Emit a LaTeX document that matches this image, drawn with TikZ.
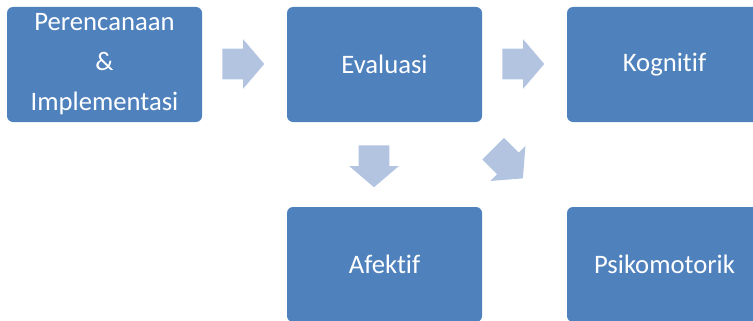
\documentclass[tikz,border=0pt]{standalone}
\usepackage{fontspec}
\setmainfont{Carlito}[Ligatures=NoCommon]
\usetikzlibrary{shapes.arrows}
\definecolor{kotakbiru}{RGB}{79,129,189}
\definecolor{panahbiru}{RGB}{179,196,224}
\tikzset{
    kotak/.style={
           rectangle,
           rounded corners=4.5pt,
           fill=kotakbiru, draw=none,
           text=white,
           minimum width=146.25pt,
           minimum height=86.25pt,
           font=\fontsize{20}{30}\selectfont,
           align=center},
    panah/.style={
           single arrow,
           fill=panahbiru, draw=none,
           anchor=tail,
           minimum height=31.5pt,
           single arrow head extend=7.1pt,
           single arrow tip angle=99,
           inner xsep=0pt, inner ysep=11.25pt}
}
\begin{document}
\begin{tikzpicture}[x=0.75pt,y=-0.75pt]
      \useasboundingbox (0,0) rectangle (753,321);
      \node[kotak] (0) at (104.5,64.5) {Perencanaan \\ \& \\ Implementasi};
      \node[kotak] (1) at (384.5,64.5) {Evaluasi};
      \node[kotak] (2) at (664.5,64.5) {Kognitif};
      \node[kotak] (3) at (384.5,264.5) {Afektif};
      \node[kotak] (4) at (664.5,264.5) {Psikomotorik};
      % panah antar kotak (ditaruh dari ekornya)
      \node[panah] (p0) at (222,64) {};
      \node[panah] (p1) at (502,64) {};
      \node[panah,rotate=-90] (p2) at (374,145) {};
      \node[panah,rotate=-45] (p3) at (493,148.5) {};
\end{tikzpicture}
\end{document}
